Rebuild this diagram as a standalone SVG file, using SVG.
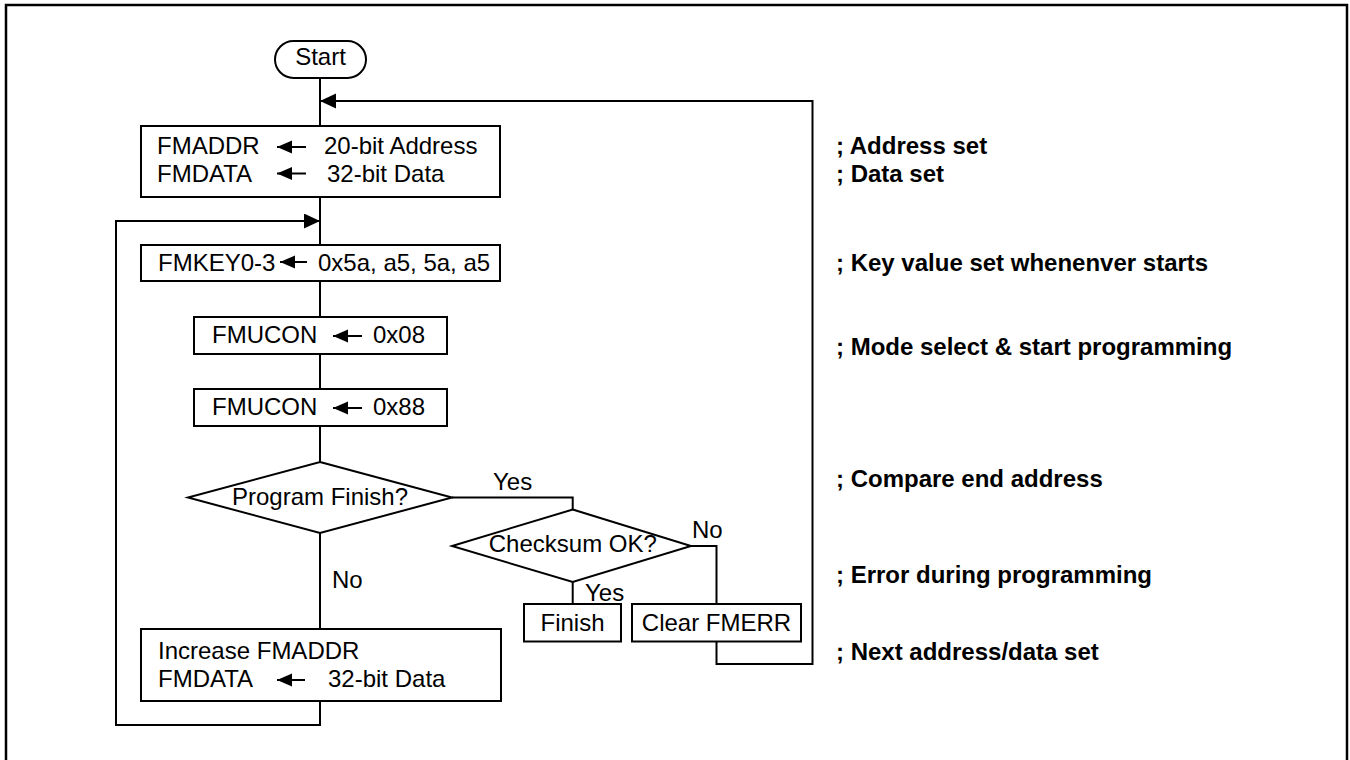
<svg xmlns="http://www.w3.org/2000/svg" width="1350" height="760" viewBox="0 0 1350 760">
  <style>
    .box { fill: #ffffff; stroke: #000000; stroke-width: 2; }
    .line { fill: none; stroke: #000000; stroke-width: 2; }
    .t { font-family: "Liberation Sans", Arial, sans-serif; font-size: 24px; fill: #000000; }
    .c { font-family: "Liberation Sans", Arial, sans-serif; font-size: 24px; font-weight: bold; fill: #000000; }
    .mid { text-anchor: middle; }
  </style>
  <defs>
    <marker id="ah" markerUnits="userSpaceOnUse" markerWidth="18" markerHeight="16" refX="16" refY="7.5" orient="auto">
      <path d="M0,0 L16,7.5 L0,15 Z" fill="#000000"/>
    </marker>
    <marker id="ahs" markerUnits="userSpaceOnUse" markerWidth="16" markerHeight="14" refX="15" refY="6.5" orient="auto">
      <path d="M0,0 L15,6.5 L0,13 Z" fill="#000000"/>
    </marker>
  </defs>
  <rect x="6" y="5" width="1341" height="800" fill="#ffffff" stroke="#000000" stroke-width="2.5"/>

  <g id="connectors">
    <path class="line" d="M320,78 V126"/>
    <path class="line" d="M716.5,641.5 V664 H812.5 V101 H320" marker-end="url(#ah)"/>
    <path class="line" d="M320,197 V245"/>
    <path class="line" d="M320,701 V725 H116 V221 H320" marker-end="url(#ah)"/>
    <path class="line" d="M320,281 V317"/>
    <path class="line" d="M320,354 V389"/>
    <path class="line" d="M320,426 V462"/>
    <path class="line" d="M320,533 V629"/>
    <path class="line" d="M452,497.5 H572.7 V509.5"/>
    <path class="line" d="M572.7,582 V604"/>
    <path class="line" d="M691,546 H716.5 V604"/>
  </g>

  <g id="labels">
    <text class="t" x="493" y="490">Yes</text>
    <text class="t" x="692" y="538">No</text>
    <text class="t" x="585" y="601">Yes</text>
    <text class="t" x="332" y="588">No</text>
  </g>

  <g id="start">
    <rect class="box" x="275" y="41" width="91" height="37" rx="18.5" ry="18.5"/>
    <text class="t mid" x="320.5" y="65">Start</text>
  </g>

  <g id="set-addr-data">
    <rect class="box" x="141" y="126" width="359" height="71"/>
    <text class="t" x="157" y="154">FMADDR</text>
    <path class="line" d="M306,147 H277" marker-end="url(#ahs)"/>
    <text class="t" x="324" y="154">20-bit Address</text>
    <text class="t" x="157" y="182">FMDATA</text>
    <path class="line" d="M306,173.5 H277" marker-end="url(#ahs)"/>
    <text class="t" x="327" y="182">32-bit Data</text>
  </g>

  <g id="set-key">
    <rect class="box" x="141" y="245" width="359" height="36"/>
    <text class="t" x="158" y="271">FMKEY0-3</text>
    <path class="line" d="M307,262 H280" marker-end="url(#ahs)"/>
    <text class="t" x="318" y="271">0x5a, a5, 5a, a5</text>
  </g>

  <g id="fmucon-08">
    <rect class="box" x="194" y="317" width="253" height="37"/>
    <text class="t" x="212" y="343">FMUCON</text>
    <path class="line" d="M362,336 H333" marker-end="url(#ahs)"/>
    <text class="t" x="373" y="343">0x08</text>
  </g>

  <g id="fmucon-88">
    <rect class="box" x="194" y="389" width="253" height="37"/>
    <text class="t" x="212" y="415">FMUCON</text>
    <path class="line" d="M362,408 H333" marker-end="url(#ahs)"/>
    <text class="t" x="373" y="415">0x88</text>
  </g>

  <g id="program-finish">
    <polygon class="box" points="320,462 452,497.5 320,533 188,497.5"/>
    <text class="t mid" x="320" y="505">Program Finish?</text>
  </g>

  <g id="checksum-ok">
    <polygon class="box" points="572.7,509.5 691,546 572.7,582 452,546"/>
    <text class="t mid" x="572.8" y="552">Checksum OK?</text>
  </g>

  <g id="finish">
    <rect class="box" x="524" y="604" width="97" height="37.5"/>
    <text class="t mid" x="572.5" y="631">Finish</text>
  </g>

  <g id="clear-fmerr">
    <rect class="box" x="632" y="604" width="169" height="37.5"/>
    <text class="t mid" x="716.5" y="631">Clear FMERR</text>
  </g>

  <g id="increase">
    <rect class="box" x="141" y="629" width="360" height="72"/>
    <text class="t" x="158" y="659">Increase FMADDR</text>
    <text class="t" x="158" y="687">FMDATA</text>
    <path class="line" d="M305,680 H277" marker-end="url(#ahs)"/>
    <text class="t" x="328" y="687">32-bit Data</text>
  </g>

  <g id="comments">
    <text class="c" x="836" y="154">; Address set</text>
    <text class="c" x="836" y="182">; Data set</text>
    <text class="c" x="836" y="271">; Key value set whenenver starts</text>
    <text class="c" x="836" y="355">; Mode select &amp; start programming</text>
    <text class="c" x="836" y="487">; Compare end address</text>
    <text class="c" x="836" y="583">; Error during programming</text>
    <text class="c" x="836" y="660">; Next address/data set</text>
  </g>
</svg>
